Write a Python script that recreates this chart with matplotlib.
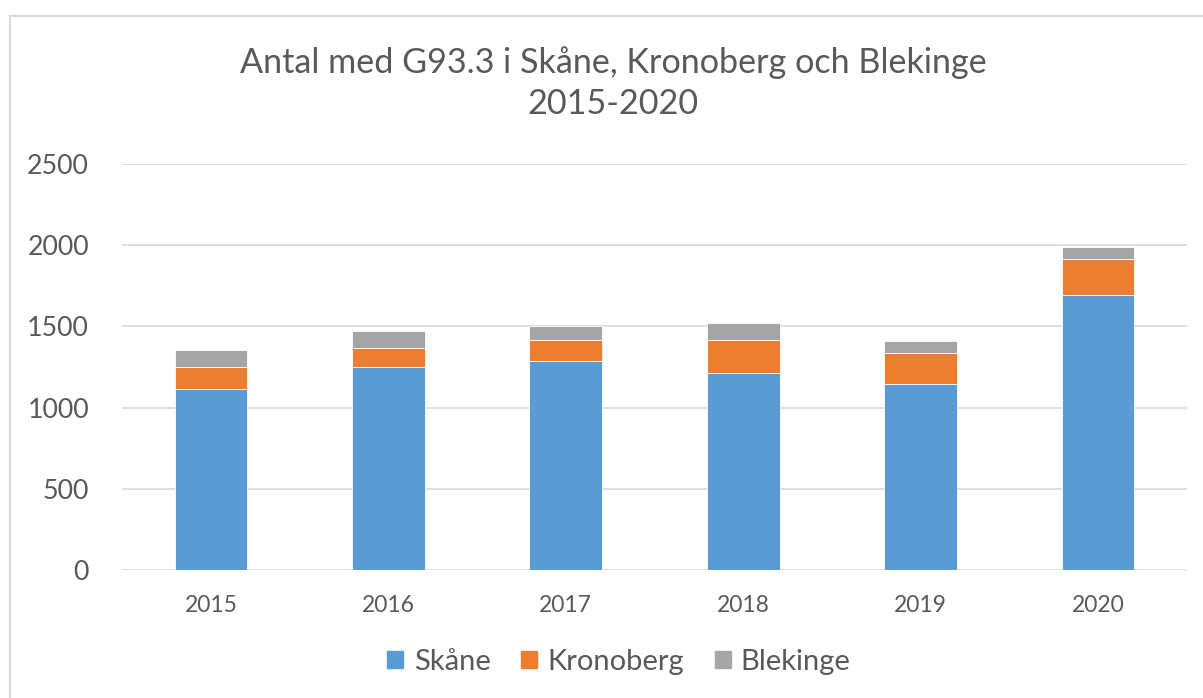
import matplotlib
matplotlib.use("Agg")
import matplotlib.pyplot as plt
from matplotlib.lines import Line2D
import numpy as np

years = ["2015", "2016", "2017", "2018", "2019", "2020"]
skane = [1112, 1247, 1288, 1216, 1143, 1692]
kronoberg = [137, 123, 129, 199, 194, 220]
blekinge = [103, 103, 85, 109, 76, 75]
series_names = ["Skåne", "Kronoberg", "Blekinge"]
colors = ["#5b9bd5", "#ed7d31", "#a5a5a5"]
title = "Antal med G93.3 i Skåne, Kronoberg och Blekinge\n2015-2020"

plt.rcParams['font.family'] = ['Lato', 'DejaVu Sans']
txt = "#595959"

fig = plt.figure(figsize=(12.03, 6.98), dpi=100)
ax = fig.add_axes([122.3/1203, 1-570/698, (1186.7-122.3)/1203, (570-164)/698])

x = np.arange(len(years))
bottom = np.zeros(len(years))
for vals, name, c in zip([skane, kronoberg, blekinge], series_names, colors):
    ax.bar(x, vals, width=0.41, bottom=bottom, color=c, label=name, zorder=3,
           edgecolor="white", linewidth=0.6)
    bottom += np.array(vals)

ax.set_xlim(-0.5, len(years)-0.5)
ax.set_ylim(0, 2500)
ax.set_yticks([0, 500, 1000, 1500, 2000, 2500])
ax.set_xticks(x)
ax.set_xticklabels(years)
ax.grid(axis="y", color="#d9d9d9", linewidth=1.2, zorder=0)
for s in ax.spines.values():
    s.set_visible(False)
ax.tick_params(axis="y", length=0, labelsize=19.3, colors=txt, pad=24)
ax.tick_params(axis="x", length=0, labelsize=16.5, colors=txt, pad=18)

fig.text(613/1203, 1-83/698, title, ha="center", va="center", fontsize=24.6,
         color=txt, linespacing=1.32)

handles = [plt.Rectangle((0, 0), 1, 1, color=c) for c in colors]
fig.legend(handles, series_names, loc="center", bbox_to_anchor=(619/1203, 1-662/698),
           ncol=3, frameon=False, fontsize=21, labelcolor=txt, handlelength=0.55,
           handleheight=0.55, columnspacing=1.05, handletextpad=0.35)

fig.add_artist(Line2D([9.5/1203, 9.5/1203], [0, 1-15.5/698], color="#d9d9d9",
                      linewidth=1.5, transform=fig.transFigure))
fig.add_artist(Line2D([9.5/1203, 1], [1-15.5/698, 1-15.5/698], color="#d9d9d9",
                      linewidth=1.5, transform=fig.transFigure))

fig.savefig("out.png", dpi=100)
